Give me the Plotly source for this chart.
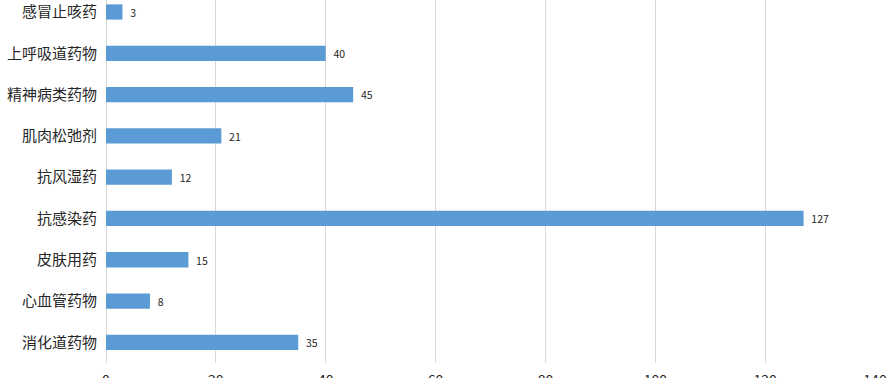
import plotly.graph_objects as go

categories = ["消化道药物", "心血管药物", "皮肤用药", "抗感染药", "抗风湿药",
              "肌肉松弛剂", "精神病类药物", "上呼吸道药物", "感冒止咳药"]
values = [35, 8, 15, 127, 12, 21, 45, 40, 3]
x_ticks = [0, 20, 40, 60, 80, 100, 120, 140]

fig = go.Figure(go.Bar(
    y=categories, x=values, orientation="h",
    marker=dict(color="#5B9BD5", line=dict(width=0)),
    text=values, texttemplate="  %{x}", textposition="outside",
    textfont=dict(family="Noto Sans CJK SC", size=11, color="#262626"),
    cliponaxis=False,
))

fig.update_layout(
    width=892, height=378,
    margin=dict(l=106, r=17, t=0, b=15, autoexpand=False),
    plot_bgcolor="white", paper_bgcolor="white",
    bargap=0.63, showlegend=False,
    font=dict(family="Noto Sans CJK SC"),
)
fig.update_xaxes(
    range=[0, 140], tickvals=x_ticks, showgrid=True, gridcolor="#d9d9d9",
    gridwidth=1, zeroline=True, zerolinecolor="#d9d9d9", zerolinewidth=1,
    tickfont=dict(size=14, color="#262626"), ticks="", showline=False,
    automargin=False, ticklabelstandoff=7,
)
fig.update_yaxes(
    range=[-0.5, 8.29], showgrid=False, ticks="", showline=False,
    tickfont=dict(size=15, color="#262626"), ticklabelstandoff=8,
    automargin=False,
)

fig.write_html("out.html")
